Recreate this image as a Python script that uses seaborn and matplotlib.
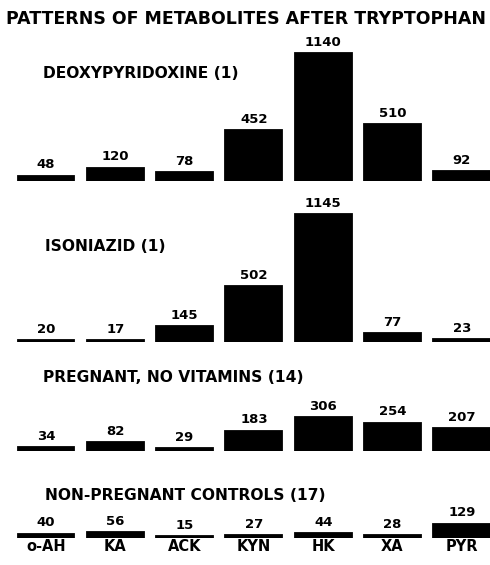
import matplotlib
matplotlib.use("Agg")
import matplotlib.pyplot as plt
import seaborn as sns
import pandas as pd

metabolites = ["o-AH", "KA", "ACK", "KYN", "HK", "XA", "PYR"]
deoxypyridoxine = [48, 120, 78, 452, 1140, 510, 92]
isoniazid = [20, 17, 145, 502, 1145, 77, 23]
pregnant_no_vitamins = [34, 82, 29, 183, 306, 254, 207]
nonpregnant_controls = [40, 56, 15, 27, 44, 28, 129]
group_titles = ["DEOXYPYRIDOXINE (1)", "ISONIAZID (1)",
                "PREGNANT, NO VITAMINS (14)", "NON-PREGNANT CONTROLS (17)"]
chart_title = "PATTERNS OF METABOLITES AFTER TRYPTOPHAN"

groups = [deoxypyridoxine, isoniazid, pregnant_no_vitamins, nonpregnant_controls]

sns.set_theme(style="white")
plt.rcParams['font.family'] = ['DejaVu Sans']
plt.rcParams['text.color'] = 'black'
plt.rcParams['xtick.color'] = 'black'

W, H = 490, 565
fig = plt.figure(figsize=(W / 100, H / 100), dpi=100)
fig.patch.set_facecolor("white")

scale = 0.112          # pixels per unit
step = 69.3            # pixels between bar centres
x0 = 46                # centre of first bar, px
left_px = x0 - 0.5 * step
width_px = 7 * step
baselines = [181, 342, 451, 538]
ax_heights = [150, 150, 80, 70]
title_pos = [(43, 73), (45, 247), (43, 377), (45, 496)]

for k, (vals, base, hpx) in enumerate(zip(groups, baselines, ax_heights)):
    ax = fig.add_axes([left_px / W, 1 - base / H, width_px / W, hpx / H])
    df = pd.DataFrame({"metabolite": metabolites, "value": vals})
    sns.barplot(data=df, x="metabolite", y="value", color="black",
                saturation=1, width=0.82, ax=ax, order=metabolites,
                edgecolor="black", linewidth=1.3)
    ax.set_xlim(-0.5, 6.5)
    ax.set_ylim(0, hpx / scale)
    ax.set_facecolor("none")
    ax.bar_label(ax.containers[0], labels=[str(v) for v in vals],
                 padding=3, fontsize=9.5, fontweight="bold", color="black",
                 clip_on=False)
    for sp in ax.spines.values():
        sp.set_visible(False)
    ax.set_yticks([])
    ax.set_ylabel("")
    ax.set_xlabel("")
    if k == 3:
        ax.tick_params(axis="x", length=0, pad=1)
        for lab in ax.get_xticklabels():
            lab.set_fontsize(10.5)
            lab.set_fontweight("bold")
            lab.set_color("black")
    else:
        ax.set_xticks([])
    tx, ty = title_pos[k]
    fig.text(tx / W, 1 - ty / H, group_titles[k], ha="left", va="center",
             fontsize=11.2, fontweight="bold", color="black")

fig.text(246 / W, 1 - 19 / H, chart_title, ha="center", va="center",
         fontsize=12.5, fontweight="bold", color="black")

fig.savefig("out.png", dpi=100, facecolor="white")
